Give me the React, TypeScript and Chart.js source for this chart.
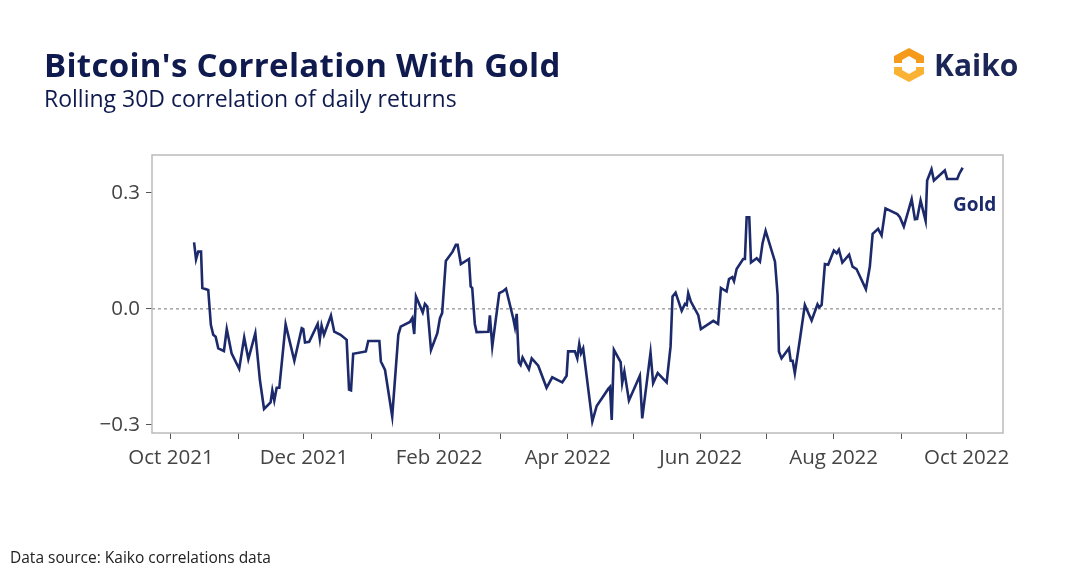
import React, { useEffect, useRef } from "react";
import Chart from "chart.js/auto";

// days since 1 Oct 2021
const days = [
  10.6, 11.5, 12.5, 13.8, 14.4, 17.1, 18.3, 19.4, 20.5, 21.7, 24.3, 25.6, 27.8, 31.3, 33.6, 35.5, 38.7, 40.8,
  42.7, 45.7, 46.5, 47.4, 48.5, 49.7, 52.6, 56.6, 60, 60.7, 61.5, 63.4, 67.3, 68.3, 69.1, 70.2, 73.4, 74.9,
  77.8, 80.6, 81.7, 82.6, 83.6, 89.4, 90.5, 95.6, 96.3, 98.2, 101.5, 104.3, 105.4, 109.6, 110.7, 111.6, 112.4,
  115.5, 116.5, 117.6, 119.3, 122.2, 123.4, 124.4, 126.1, 129.2, 130.7, 131.5, 133, 136.7, 137.5, 138.2, 139.4,
  140.2, 145.6, 146.3, 147.4, 150.6, 152.2, 153.7, 157, 157.8, 158.6, 159.6, 160.4, 161.3, 164.2, 165.5, 168.5,
  172.3, 174.9, 179.5, 181.5, 182.2, 185.3, 186.4, 187.3, 188.1, 189.1, 193.3, 195.3, 200.6, 201.4, 202.2, 203.2,
  206.3, 207, 208, 210.1, 215.1, 216.2, 220, 221.2, 223.3, 227.4, 229.2, 230.1, 231.5, 234.3, 235.8, 236.6,
  237.3, 238.5, 241.9, 243.1, 248.8, 251, 252.3, 254.9, 256, 257.5, 258.3, 259.5, 262.5, 263.3, 264.1, 265.3,
  266.1, 268.7, 270.2, 271.4, 272.8, 277.1, 278.3, 278.9, 280.1, 283.5, 284.3, 285.2, 286.2, 288.5, 290.8,
  293.9, 296.6, 297.4, 298.5, 300, 301.5, 304.1, 305.4, 306.4, 308, 311.1, 312.7, 314.5, 318.8, 320.6, 321.9,
  324.4, 326, 327.8, 333.2, 334.4, 336.2, 339.8, 341.3, 342.3, 343.9, 346.2, 346.9, 348.9, 350, 355, 356.1,
  360.7, 361.6, 363.2,
];
const goldCorr = [
  0.172, 0.128, 0.148, 0.148, 0.054, 0.049, -0.041, -0.067, -0.072, -0.102, -0.109, -0.052, -0.115, -0.155,
  -0.074, -0.13, -0.063, -0.184, -0.259, -0.242, -0.211, -0.237, -0.204, -0.204, -0.04, -0.134, -0.05, -0.052,
  -0.087, -0.085, -0.039, -0.078, -0.043, -0.067, -0.017, -0.059, -0.067, -0.08, -0.209, -0.211, -0.116, -0.11,
  -0.083, -0.083, -0.136, -0.158, -0.278, -0.067, -0.046, -0.034, -0.024, -0.065, 0.032, -0.009, 0.013, 0.006,
  -0.106, -0.063, -0.024, -0.011, 0.124, 0.148, 0.166, 0.166, 0.116, 0.129, 0.058, 0.054, -0.039, -0.06,
  -0.059, -0.017, -0.097, 0.041, 0.045, 0.052, -0.024, -0.047, -0.013, -0.138, -0.145, -0.126, -0.156, -0.128,
  -0.147, -0.204, -0.177, -0.19, -0.173, -0.11, -0.11, -0.128, -0.091, -0.115, -0.102, -0.291, -0.251, -0.207,
  -0.202, -0.287, -0.106, -0.138, -0.192, -0.162, -0.237, -0.173, -0.283, -0.113, -0.192, -0.166, -0.19,
  -0.097, 0.032, 0.042, -0.005, 0.013, 0.01, 0.041, 0.019, -0.016, -0.052, -0.031, -0.039, 0.054, 0.045, 0.077,
  0.082, 0.072, 0.103, 0.129, 0.129, 0.237, 0.237, 0.12, 0.131, 0.122, 0.17, 0.202, 0.122, 0.036, -0.11, -0.128,
  -0.102, -0.134, -0.134, -0.166, -0.08, 0.01, -0.03, 0.012, 0.004, 0.01, 0.116, 0.114, 0.151, 0.144, 0.153,
  0.12, 0.14, 0.109, 0.103, 0.051, 0.109, 0.194, 0.207, 0.19, 0.26, 0.245, 0.237, 0.213, 0.284, 0.232, 0.233,
  0.28, 0.228, 0.332, 0.361, 0.332, 0.358, 0.336, 0.336, 0.349, 0.365,
];
// monthly ticks, labelled every other month
const tickDays = [0, 31, 61, 92, 123, 151, 182, 212, 243, 273, 304, 335, 365];
const tickLabels = ["Oct 2021", "", "Dec 2021", "", "Feb 2022", "", "Apr 2022", "", "Jun 2022", "", "Aug 2022", "", "Oct 2022"];
const yTicks = [-0.3, 0, 0.3];

const NAVY = "#1c2a6b";
const FONT = "'Open Sans', 'Noto Sans', sans-serif";

const framePlugin = {
  id: "frame",
  beforeDatasetsDraw(chart: any) {
    const { ctx, chartArea: a, scales } = chart;
    const y0 = scales.y.getPixelForValue(0);
    ctx.save();
    ctx.strokeStyle = "#777";
    ctx.lineWidth = 1;
    ctx.setLineDash([3, 3]);
    ctx.beginPath();
    ctx.moveTo(a.left, y0);
    ctx.lineTo(a.right, y0);
    ctx.stroke();
    ctx.setLineDash([]);
    ctx.strokeStyle = "#bbb";
    ctx.lineWidth = 1.5;
    ctx.strokeRect(a.left, a.top, a.right - a.left, a.bottom - a.top);
    ctx.restore();
  },
};

export default function App() {
  const chartRef = useRef<HTMLCanvasElement | null>(null);

  useEffect(() => {
    document.body.style.margin = "0";
    if (!chartRef.current) return;
    const chart = new Chart(chartRef.current, {
      type: "line",
      data: {
        datasets: [
          {
            data: days.map((d, i) => ({ x: d, y: goldCorr[i] })),
            borderColor: NAVY,
            borderWidth: 2.6,
            pointRadius: 0,
            tension: 0,
          },
        ],
      },
      options: {
        animation: false,
        responsive: false,
        layout: { padding: { top: 155, right: 66, left: 0, bottom: 0 } },
        plugins: { legend: { display: false }, tooltip: { enabled: false } },
        scales: {
          x: {
            type: "linear",
            min: -8.7,
            max: 381.7,
            afterBuildTicks: (s: any) => {
              s.ticks = tickDays.map((v) => ({ value: v }));
            },
            afterFit: (s: any) => {
              s.height = 139;
            },
            ticks: {
              autoSkip: false,
              maxRotation: 0,
              padding: 7,
              color: "#444",
              font: { family: FONT, size: 20.5 },
              callback: (v: any) => tickLabels[tickDays.indexOf(v)],
            },
            grid: { drawOnChartArea: false, tickLength: 6, color: "#555" },
            border: { display: false },
          },
          y: {
            min: -0.321,
            max: 0.398,
            afterBuildTicks: (s: any) => {
              s.ticks = yTicks.map((v) => ({ value: v }));
            },
            afterFit: (s: any) => {
              s.width = 152;
            },
            ticks: {
              padding: 6,
              color: "#444",
              font: { family: FONT, size: 20.5 },
              callback: (v: any) => (v < 0 ? "\u2212" + Math.abs(v).toFixed(1) : v.toFixed(1)),
            },
            grid: { drawOnChartArea: false, tickLength: 6, color: "#555" },
            border: { display: false },
          },
        },
      },
      plugins: [framePlugin],
    });
    return () => chart.destroy();
  }, []);

  return (
    <div style={{ position: "relative", width: 1069, height: 572, fontFamily: FONT, background: "#fff", overflow: "hidden" }}>
      <canvas ref={chartRef} width={1069} height={572} style={{ position: "absolute", left: 0, top: 0 }} />
      <div style={{ position: "absolute", left: 44, top: 42, fontSize: 33, fontWeight: 700, color: "#0f1a4e", letterSpacing: 0.3 }}>
        Bitcoin's Correlation With Gold
      </div>
      <div style={{ position: "absolute", left: 44, top: 82, fontSize: 23, color: "#0f1a4e" }}>
        Rolling 30D correlation of daily returns
      </div>
      <div style={{ position: "absolute", left: 890, top: 44, display: "flex", alignItems: "center" }}>
        <svg width="38" height="38" viewBox="0 0 38 38">
          <path d="M19 2 L34 10 L34 17 L26 17 L26 14 L19 10 L12 14 L12 17 L4 17 L4 10 Z" fill="#f59a1b" />
          <path d="M19 36 L4 28 L4 21 L12 21 L12 24 L19 28 L26 24 L26 21 L34 21 L34 28 Z" fill="#f9b233" />
        </svg>
        <span style={{ marginLeft: 6, fontSize: 30, fontWeight: 700, color: "#1b2657" }}>Kaiko</span>
      </div>
      <div style={{ position: "absolute", left: 953, top: 191, fontSize: 19, fontWeight: 700, color: NAVY }}>Gold</div>
      <div style={{ position: "absolute", left: 10, top: 546, fontSize: 15.5, color: "#222" }}>
        Data source: Kaiko correlations data
      </div>
    </div>
  );
}
